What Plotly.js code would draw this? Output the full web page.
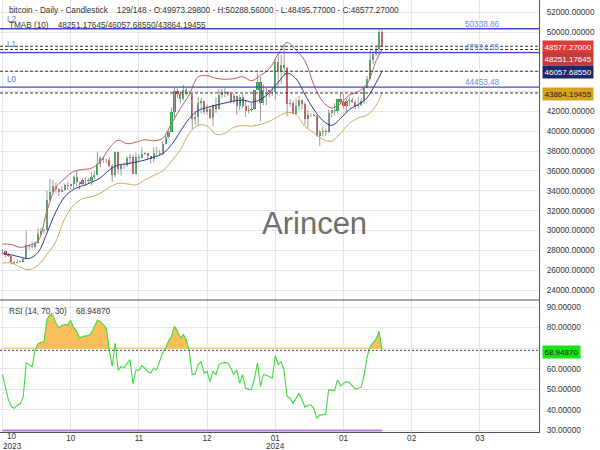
<!DOCTYPE html>
<html><head><meta charset="utf-8">
<script src="https://cdn.plot.ly/plotly-3.0.1.min.js"></script>
<style>html,body{margin:0;padding:0;background:#fff}#chart{width:600px;height:450px}</style>
</head><body><div id="chart"></div>
<script>
// ---- data (daily candles, index 0 .. 128) ----
const openP = [27970,27935,27580,27390,26870,26750,26860,26850,27150,28520,
28400,28330,28720,29680,29920,30000,33080,33920,34500,34150,
33900,34090,34540,34480,34670,35420,34940,34730,35080,35050,
35040,35420,35630,36700,37310,37130,37060,36490,35550,37880,
36160,36600,36580,37360,37450,35740,37420,37290,37720,37800,
37480,37250,37830,37860,37720,38690,39470,39980,41980,44080,
43770,43290,44170,43720,43790,41240,41450,42890,43020,41930,
42240,41360,42620,42270,43650,43860,43990,43740,43010,43600,
42520,43440,42580,42070,42140,42280,44180,44950,42850,44150,
44160,43970,43930,46970,46120,46660,46340,42780,42840,41730,
42510,43150,42740,41260,41620,41660,41580,39510,39900,40080,
39930,41820,42120,42030,43300,42950,42580,43080,43190,43000,
42580,42660,43090,44340,45300,47150,47770,48300,49973.298];
const highP = [28100,27990,27740,27480,26940,27100,26970,27290,30000,28610,
28900,28920,30200,30300,30200,34000,35200,35100,34820,34240,
34450,34740,34880,34700,35560,35980,34940,35250,35380,35280,
35890,35980,37930,37500,37390,37220,37400,36750,37950,37930,
36710,36850,37500,37760,37640,37850,37640,38400,37890,37820,
37560,38380,38430,38150,38990,39700,40200,42400,44420,44300,
44040,44700,44370,44040,43800,42050,43430,43400,43090,42700,
42400,42730,43420,44280,44240,44390,44020,43950,43770,43600,
43680,43790,43120,42600,42880,44190,45900,45500,44730,44340,
44220,44480,47200,47890,47700,48800,46500,43250,43080,43290,
43560,43200,42930,42140,41820,41880,41650,40130,40490,40280,
42200,42190,42840,43300,43880,43750,43280,43480,43380,43120,
43500,43380,44370,45580,48200,48170,48550,50300,50288.56];
const lowP = [27700,27300,27300,26560,26560,26690,26810,26800,27120,28100,
28180,28180,28620,29480,29680,29900,32900,33700,33800,33450,
33880,34050,34080,34100,34120,34500,34120,34600,34530,34740,
34550,35160,35560,36380,36800,36760,36350,34900,35370,35700,
35520,36200,36400,36730,35730,35640,36900,37250,37620,37170,
36750,36890,37560,37500,37620,38670,39300,39980,41430,43350,
42830,43110,43630,43600,40230,40680,40620,41790,41680,41690,
41260,40550,41850,42200,43330,43440,43560,42810,42780,41680,
42110,42310,41450,41810,41980,42190,44180,41000,42630,42630,
43400,43560,43200,44300,44750,45600,41500,42450,41730,41730,
42060,42200,40680,40280,41430,41500,39450,38500,39490,39520,
39820,41400,41620,41800,42710,42300,41880,42580,42880,42220,
42260,42550,42800,44330,45250,46800,47600,47700,48495.77];
const closeP = [27935,27580,27390,26870,26750,26860,26850,27150,28520,28400,
28330,28720,29680,29920,30000,33080,33920,34500,34150,33900,
34090,34540,34480,34670,35420,34940,34730,35080,35050,35040,
35420,35630,36700,37310,37130,37060,36490,35550,37880,36160,
36600,36580,37360,37450,35740,37420,37290,37720,37800,37480,
37250,37830,37860,37720,38690,39470,39980,41980,44080,43770,
43290,44170,43720,43790,41240,41450,42890,43020,41930,42240,
41360,42620,42270,43650,43860,43990,43740,43010,43600,42520,
43440,42580,42070,42140,42280,44180,44950,42850,44150,44160,
43970,43930,46970,46120,46660,46340,42780,42840,41730,42510,
43150,42740,41260,41620,41660,41580,39510,39900,40080,39930,
41820,42120,42030,43300,42950,42580,43080,43190,43000,42580,
42660,43090,44340,45300,47150,47770,48300,49970,48577.27];

// TMAB (10) bands, read at every third candle
const tmabIdx = [0,3,6,9,12,15,18,21,24,27,30,33,36,39,42,45,48,51,54,57,60,63,66,69,72,75,78,81,84,87,90,93,96,99,102,105,108,111,114,117,120,123,126,128];
const tmabUpper = [28640,28580,28300,28500,28950,32000,34350,35250,35950,36150,36280,36950,38300,39100,38750,38900,39150,39050,39300,40800,42300,43700,45500,45600,45350,45250,45300,45500,45100,45650,46300,47800,48950,48200,47100,44700,43000,42350,42800,43650,44000,44800,47100,48251.17645];
const tmabMid = [27680,27540,27320,27180,27800,29750,31900,33400,34150,34500,34850,35300,36100,36600,36720,36900,37100,37400,37750,38650,40000,41300,42100,42400,42650,42850,43050,43150,42950,43200,43900,44950,45850,45300,43700,42200,41100,40600,41300,42200,42700,43400,44900,46057.6855];
const tmabLower = [26720,26720,26300,26050,26500,27600,28900,31200,32550,33200,33400,33750,34350,34750,34700,34600,35100,35550,36000,37000,38150,39800,40600,40550,39700,39800,40400,40580,40520,40700,41000,41500,41900,41700,40500,39850,39200,39000,39800,40800,41350,41650,42600,43864.19455];

// RSI (14, 70, 30)
const rsi = [57.1,50.6,44.9,41.6,40.8,42.4,42.9,46.5,62.8,62.0,
61.1,69.3,72.2,72.8,73.2,83.9,86.3,85.8,82.3,79.8,
81.0,81.5,81.3,83.6,80.0,78.2,74.9,75.8,76.1,76.1,
77.4,80.3,83.6,83.0,81.5,79.8,69.3,61.1,72.5,59.2,
61.1,60.3,62.5,64.4,52.7,59.5,59.2,61.5,60.3,58.5,
57.9,60.3,59.5,63.6,67.6,70.1,73.5,75.8,80.6,78.2,
75.0,76.6,74.1,68.4,57.1,57.5,62.0,63.6,57.9,58.7,
53.8,58.7,57.1,62.0,62.8,63.1,62.7,60.3,57.1,59.5,
53.0,57.1,50.6,50.0,50.1,55.5,62.8,51.4,57.1,56.8,
56.3,55.5,66.3,62.0,63.6,58.7,46.5,45.7,43.2,46.0,
48.1,44.9,41.3,42.4,42.4,40.8,35.9,37.6,37.6,38.0,
49.8,49.6,49.4,54.6,51.7,52.8,53.8,53.3,51.5,50.1,
50.5,51.1,57.1,66.0,70.9,72.8,74.5,78.2,68.9487];
const rsiUpper = 70, rsiLower = 30;

// horizontal levels
const levelNames = ['L2','L1','L0'];
const levelValues = [50338.86, 47924.35, 44453.48];

// axis ticks
const priceTicks = [24000,26000,28000,30000,32000,34000,36000,38000,40000,42000,44000,46000,48000,50000,52000];
const priceHidden = [44000,46000,48000];   // covered by the value tags
const rsiTicks = [30,40,50,60,70,80,90];
const rsiHidden = [70];
const tickIdx = [0,23,46,69,92,115,138,161];
const tickText = ['10','10','11','12','01','01','02','03'];
const yearIdx = [0,92];
const yearText = ['2023','2024'];

// ---- build ----
const N = closeP.length;
const xs = closeP.map((_,i)=>i);
const PW = 539, PH = 432;
const px = x => x/PW, py = y => 1 - y/PH;
const FONT = 'Liberation Sans, Arial, sans-serif';
const nb = s => s.replace(/ /g,'\u00a0');
const f5 = v => v.toFixed(5);

const wx=[], wy=[];
for(let i=0;i<N;i++){ wx.push(i,i,null); wy.push(lowP[i],highP[i],null); }
const base = xs.map(i=>Math.min(openP[i],closeP[i]));
const len = xs.map(i=>Math.max(Math.abs(closeP[i]-openP[i]),30));
const bcol = xs.map(i=>closeP[i]>=openP[i]?'#27a34d':'#e23a36');

const fx=[], fy=[];
for(let i=0;i<N;i++){
  if(i>0){const p=rsi[i-1],v=rsi[i]; if((p-rsiUpper)*(v-rsiUpper)<0){fx.push(i-1+(rsiUpper-p)/(v-p)); fy.push(rsiUpper);}}
  fx.push(i); fy.push(Math.max(rsi[i],rsiUpper));
}

const traces = [
  {type:'scatter',mode:'lines',x:wx,y:wy,line:{color:'#9a9a9a',width:1},xaxis:'x',yaxis:'y',hoverinfo:'skip'},
  {type:'bar',x:xs,base:base,y:len,width:0.72,marker:{color:bcol,line:{width:0}},xaxis:'x',yaxis:'y',hoverinfo:'skip'},
  {type:'scatter',mode:'lines',x:tmabIdx,y:tmabUpper,line:{color:'#c45a5a',width:1,shape:'spline'},xaxis:'x',yaxis:'y'},
  {type:'scatter',mode:'lines',x:tmabIdx,y:tmabMid,line:{color:'#2d3888',width:1,shape:'spline'},xaxis:'x',yaxis:'y'},
  {type:'scatter',mode:'lines',x:tmabIdx,y:tmabLower,line:{color:'#cda85c',width:1,shape:'spline'},xaxis:'x',yaxis:'y'},
  {type:'scatter',mode:'lines',x:[0,N-1],y:[rsiUpper,rsiUpper],line:{color:'#f3c04a',width:1},xaxis:'x',yaxis:'y2'},
  {type:'scatter',mode:'lines',x:fx,y:fy,fill:'tonexty',fillcolor:'rgba(247,184,72,0.9)',line:{width:0},xaxis:'x',yaxis:'y2'},
  {type:'scatter',mode:'lines',x:[0,N-1],y:[rsiLower,rsiLower],line:{color:'#b07ae8',width:2},xaxis:'x',yaxis:'y2'},
  {type:'scatter',mode:'lines',x:xs,y:rsi,line:{color:'#3fdc3f',width:1.1},xaxis:'x',yaxis:'y2'}
];

const shapes = [];
levelValues.forEach(v=>shapes.push({type:'line',xref:'paper',x0:0,x1:1,yref:'y',y0:v,y1:v,line:{color:'#4848c8',width:1.3}}));
[closeP[N-1],tmabUpper[tmabUpper.length-1],tmabMid[tmabMid.length-1],tmabLower[tmabLower.length-1]].forEach(v=>
  shapes.push({type:'line',xref:'paper',x0:0,x1:1,yref:'y',y0:v,y1:v,line:{color:'#333',width:1,dash:'3px,2px'}}));
shapes.push({type:'line',xref:'paper',x0:0,x1:1,yref:'y2',y0:rsi[N-1],y1:rsi[N-1],line:{color:'#444',width:1,dash:'2px,2px'}});
shapes.push({type:'line',xref:'paper',x0:0,x1:1,yref:'paper',y0:py(300),y1:py(300),line:{color:'#555',width:1}});

const ann = [];
const A = (x,y,text,opt={}) => ann.push(Object.assign({xref:'paper',yref:'paper',x:px(x),y:py(y),text:text,showarrow:false,xanchor:'left',yanchor:'middle',font:{family:FONT,size:8.2,color:'#333'}},opt));
A(7,10.5,nb('bitcoin - Daily - Candlestick    '+N+'/148 - O:'+f5(openP[N-1])+' - H:'+f5(highP[N-1])+' - L:'+f5(lowP[N-1])+' - C:'+f5(closeP[N-1])));
A(7,25.5,nb('TMAB (10)    '+f5(tmabUpper[tmabUpper.length-1])+'/'+f5(tmabMid[tmabMid.length-1])+'/'+f5(tmabLower[tmabLower.length-1])));
A(7,311,nb('RSI (14, 70, 30)    '+f5(rsi[N-1])));
const lvY = [19,44,80], lvvY=[24,47.7,82.3];
levelNames.forEach((n,k)=>{
  A(5,lvY[k],n,{font:{family:FONT,size:8.2,color:'#5b78d8'}});
  A(482,lvvY[k],levelValues[k].toFixed(2),{xanchor:'center',font:{family:FONT,size:8.2,color:'#6a8ae0'}});
});
A(314,223,'Arincen',{xanchor:'center',font:{family:FONT,size:31,color:'#6f6f6f'}});
// value tags
const tag = (y,text,bg,fg) => A(542,y,text,{bgcolor:bg,borderpad:1.5,font:{family:FONT,size:8,color:fg}});
tag(47,f5(closeP[N-1]),'#e23a3a','#fff');
tag(58.6,f5(tmabUpper[tmabUpper.length-1]),'#c23c3c','#fff');
tag(72,f5(tmabMid[tmabMid.length-1]),'#1f2768','#fff');
tag(94,f5(tmabLower[tmabLower.length-1]),'#d9a21e','#222');
tag(352,f5(rsi[N-1]),'#19e619','#222');
// first tick label and year labels
const xpx = i => 2.5 + i*2.965;
A(12,436,tickText[0],{xanchor:'center',borderpad:0});
yearIdx.forEach((i,k)=>A(Math.max(xpx(i),12),446,yearText[k],{xanchor:'center',borderpad:0}));

const axisFont = {family:FONT,size:8.2,color:'#333'};
const yCommon = {side:'right',anchor:'x',tickmode:'array',showgrid:true,gridcolor:'#e6e6e6',zeroline:false,
  showline:true,linecolor:'#555',ticks:'outside',ticklen:5,tickcolor:'rgba(0,0,0,0)',tickfont:axisFont};
const layout = {
  width:600,height:450,margin:{l:0,r:61,t:0,b:18},paper_bgcolor:'#fff',plot_bgcolor:'#fff',
  showlegend:false,bargap:0,
  xaxis:{anchor:'y2',range:[-2.5/2.965,(PW-2.5)/2.965],tickmode:'array',tickvals:tickIdx,
    ticktext:tickIdx.map((_,k)=>k===0?'':tickText[k]),showgrid:true,gridcolor:'#e6e6e6',zeroline:false,
    showline:true,linecolor:'#555',linewidth:1,ticks:'',ticklabelstandoff:-2,tickfont:axisFont},
  yaxis:Object.assign({},yCommon,{domain:[py(300),1],range:[22992,53240],tickvals:priceTicks,
    ticktext:priceTicks.map(v=>priceHidden.includes(v)?'':f5(v))}),
  yaxis2:Object.assign({},yCommon,{domain:[0,py(300)],range:[29.27,93.4],tickvals:rsiTicks,
    ticktext:rsiTicks.map(v=>rsiHidden.includes(v)?'':f5(v))}),
  shapes:shapes,annotations:ann
};
Plotly.newPlot('chart',traces,layout,{displayModeBar:false,staticPlot:true});
</script></body></html>
